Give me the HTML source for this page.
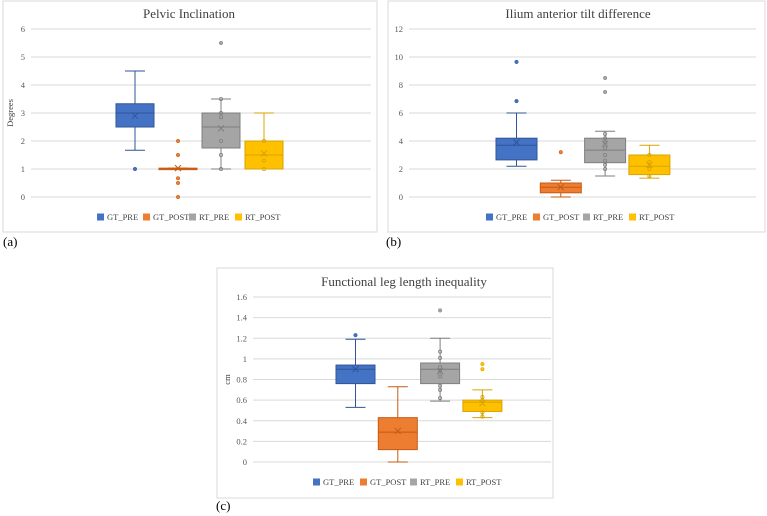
<!DOCTYPE html>
<html><head><meta charset="utf-8">
<style>
html,body{margin:0;padding:0;background:#fff;}
svg{display:block;font-family:"Liberation Serif",serif;}
</style></head>
<body>
<svg id="root" width="767" height="516" viewBox="0 0 767 516" xmlns="http://www.w3.org/2000/svg">
<rect x="0" y="0" width="767" height="516" fill="#fff"/>
<g id="ca"></g>
<g id="cb"></g>
<g id="cc"></g>
<text x="3" y="246" font-size="13">(a)</text>
<text x="386" y="246" font-size="13">(b)</text>
<text x="216" y="510" font-size="13">(c)</text>
</svg>
<script>
const seriesNames = ["GT_PRE","GT_POST","RT_PRE","RT_POST"];
const fills = ["#4472C4","#ED7D31","#A5A5A5","#FFC000"];
const strokes = ["#2F5597","#C55A11","#7F7F7F","#D9A400"];

// Chart A: Pelvic Inclination
const aTicks = [0,1,2,3,4,5,6];
const aQ1 = [2.5,1.0,1.75,1.0];
const aQ3 = [3.33,1.03,3.0,2.0];
const aMed = [3.0,1.02,2.5,1.5];
const aMean = [2.9,1.03,2.45,1.55];
const aLo = [1.67,1.0,1.0,1.0];
const aHi = [4.5,1.03,3.5,3.0];
const aOut = [[1],[2,1.5,0.67,0.5,0],[5.5],[]];
const aInner = [[],[],[3.5,3,2.85,2,1.5,1],[2,1.3,1]];

// Chart B: Ilium anterior tilt difference
const bTicks = [0,2,4,6,8,10,12];
const bQ1 = [2.65,0.3,2.45,1.6];
const bQ3 = [4.2,1.0,4.2,3.0];
const bMed = [3.7,0.7,3.35,2.2];
const bMean = [3.9,0.7,3.8,2.3];
const bLo = [2.2,0,1.5,1.35];
const bHi = [6.0,1.2,4.7,3.7];
const bOut = [[9.65,6.85],[3.2],[8.5,7.5],[]];
const bInner = [[],[],[4.5,4.2,3.9,3.5,3.0,2.6,2.3,2.0],[3.0,2.5,2.2,2.0,1.5]];

// Chart C: Functional leg length inequality
const cTicks = [0,0.2,0.4,0.6,0.8,1,1.2,1.4,1.6];
const cQ1 = [0.76,0.12,0.76,0.49];
const cQ3 = [0.94,0.43,0.96,0.6];
const cMed = [0.9,0.29,0.9,0.58];
const cMean = [0.9,0.3,0.88,0.57];
const cLo = [0.53,0,0.59,0.43];
const cHi = [1.19,0.73,1.2,0.7];
const cOut = [[1.23],[],[1.47],[0.95,0.9]];
const cInner = [[],[],[1.07,1.01,0.92,0.88,0.83,0.74,0.7,0.62],[0.63,0.6,0.48,0.44]];

const NS="http://www.w3.org/2000/svg";
function mk(parent,tag,attrs){const e=document.createElementNS(NS,tag);for(const k in attrs)e.setAttribute(k,attrs[k]);parent.appendChild(e);return e;}

function draw(gid,cfg){
  const g=document.getElementById(gid);
  const border=mk(g,'rect',{x:cfg.px,y:cfg.py,width:cfg.pw,height:cfg.ph,fill:'#fff',stroke:'#d9d9d9','stroke-width':1});
  
  
  const title=mk(g,'text',{x:cfg.titleX,y:cfg.titleY,'font-size':13,'text-anchor':'middle',fill:'#404040'});
  title.textContent=cfg.title;
  
  
  const ticks=cfg.ticks, tmin=ticks[0], tmax=ticks[ticks.length-1];
  const y=v=>cfg.y0-(v-tmin)/(tmax-tmin)*(cfg.y0-cfg.y1);
  ticks.forEach(t=>{
    const gl=mk(g,'line',{x1:cfg.gx0,x2:cfg.gx1,y1:y(t),y2:y(t),stroke:'#d9d9d9','stroke-width':1});
    
    
    const tl=mk(g,'text',{x:cfg.gx0-6,y:y(t)+3,'font-size':8.5,'text-anchor':'end',fill:'#595959'});
    tl.textContent=String(t);
    
    
  });
  if(cfg.ylabel){
    const yl=mk(g,'text',{x:0,y:0,'font-size':8.5,'text-anchor':'middle',fill:'#404040',transform:`translate(${cfg.ylx},${(cfg.y0+cfg.y1)/2}) rotate(-90)`});
    yl.textContent=cfg.ylabel;
    
    
  }
  const bw=cfg.bw;
  const xc=i=>cfg.bx0+bw/2+i*cfg.step;
  for(let i=0;i<4;i++){
    const cx=xc(i), f=fills[i], s=strokes[i];
    const wg=mk(g,'g',{});
    
    
    mk(wg,'line',{x1:cx,x2:cx,y1:y(cfg.hi[i]),y2:y(cfg.q3[i]),stroke:s,'stroke-width':1});
    mk(wg,'line',{x1:cx,x2:cx,y1:y(cfg.q1[i]),y2:y(cfg.lo[i]),stroke:s,'stroke-width':1});
    mk(wg,'line',{x1:cx-10,x2:cx+10,y1:y(cfg.hi[i]),y2:y(cfg.hi[i]),stroke:s,'stroke-width':1});
    mk(wg,'line',{x1:cx-10,x2:cx+10,y1:y(cfg.lo[i]),y2:y(cfg.lo[i]),stroke:s,'stroke-width':1});
    const top=y(cfg.q3[i]), bot=y(cfg.q1[i]);
    mk(wg,'rect',{x:cx-bw/2,y:top,width:bw,height:Math.max(bot-top,1.5),fill:f,stroke:s,'stroke-width':1});
    mk(wg,'line',{x1:cx-bw/2,x2:cx+bw/2,y1:y(cfg.med[i]),y2:y(cfg.med[i]),stroke:s,'stroke-width':1});
    const my=y(cfg.mean[i]);
    mk(wg,'path',{d:`M${cx-3},${my-3}L${cx+3},${my+3}M${cx-3},${my+3}L${cx+3},${my-3}`,stroke:s,'stroke-width':1,fill:'none'});
    cfg.inner[i].forEach(v=>{const c=mk(wg,'circle',{cx:cx,cy:y(v),r:1.6,fill:'none',stroke:s,'stroke-width':0.8});
      
      });
    cfg.out[i].forEach(v=>{const c=mk(wg,'circle',{cx:cx,cy:y(v),r:1.8,fill:f,stroke:s,'stroke-width':0.5});
      
      });
  }
  for(let i=0;i<4;i++){
    const lg=mk(g,'g',{});
    
    
    const lx=cfg.legX[i];
    mk(lg,'rect',{x:lx,y:cfg.legY-3.5,width:7,height:7,fill:fills[i]});
    const t=mk(lg,'text',{x:lx+10,y:cfg.legY+3,'font-size':8.5,fill:'#404040'});
    t.textContent=seriesNames[i];
  }
}

draw('ca',{px:3,py:1,pw:374,ph:231,title:'Pelvic Inclination',titleX:189,titleY:18,ticks:aTicks,y0:197,y1:29,gx0:31,gx1:371,
  ylabel:'Degrees',ylx:13,bx0:116,bw:38,step:43,q1:aQ1,q3:aQ3,med:aMed,mean:aMean,lo:aLo,hi:aHi,out:aOut,inner:aInner,
  legX:[97,143,189,235],legY:217});
draw('cb',{px:388,py:1,pw:377,ph:231,title:'Ilium anterior tilt difference',titleX:578,titleY:18,ticks:bTicks,y0:197,y1:29,gx0:409,gx1:756,
  ylabel:null,bx0:496,bw:41,step:44.3,q1:bQ1,q3:bQ3,med:bMed,mean:bMean,lo:bLo,hi:bHi,out:bOut,inner:bInner,
  legX:[486,533,583,629],legY:217});
draw('cc',{px:217,py:268,pw:336,ph:230,title:'Functional leg length inequality',titleX:404,titleY:286,ticks:cTicks,y0:462,y1:297,gx0:253,gx1:551,
  ylabel:'cm',ylx:230,bx0:336,bw:39,step:42.3,q1:cQ1,q3:cQ3,med:cMed,mean:cMean,lo:cLo,hi:cHi,out:cOut,inner:cInner,
  legX:[313,360,410,456],legY:482});
</script>
</body></html>
